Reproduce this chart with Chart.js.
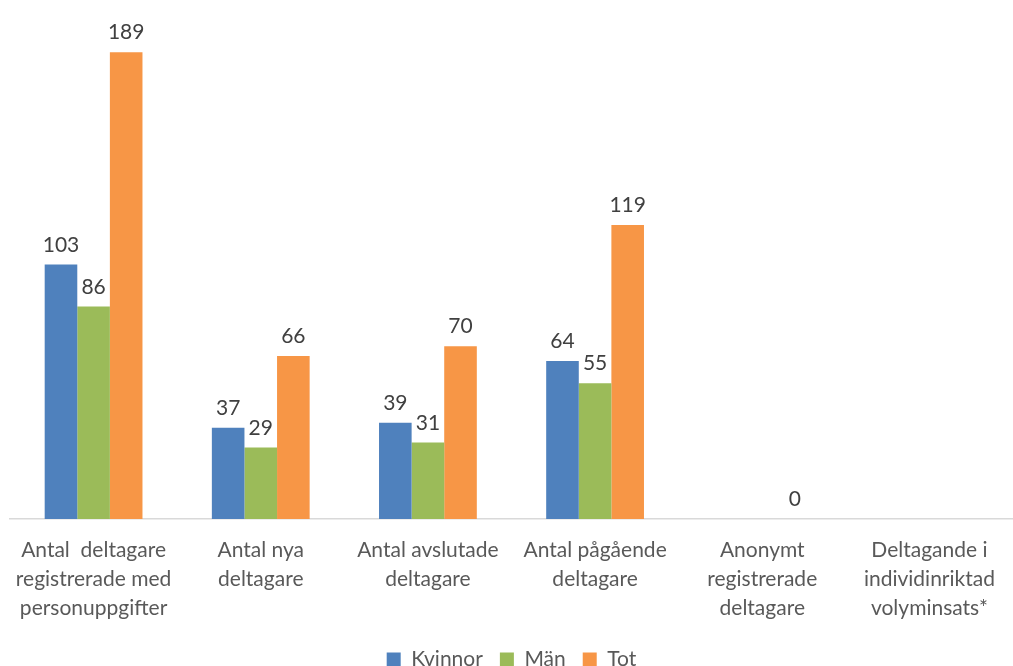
<!DOCTYPE html>
<html>
<head>
<meta charset="utf-8">
<script src="https://cdn.jsdelivr.net/npm/chart.js@4"></script>
<style>
  body { margin: 0; background: #fff; }
  #wrap { width: 1013px; height: 666px; }
</style>
</head>
<body>
<div id="wrap"><canvas id="myChart"></canvas></div>
<script>
var kategorier = [
  ["Antal  deltagare", "registrerade med", "personuppgifter"],
  ["Antal nya", "deltagare"],
  ["Antal avslutade", "deltagare"],
  ["Antal pågående", "deltagare"],
  ["Anonymt", "registrerade", "deltagare"],
  ["Deltagande i", "individinriktad", "volyminsats*"]
];
var kvinnor = [103, 37, 39, 64, null, null];
var man = [86, 29, 31, 55, null, null];
var tot = [189, 66, 70, 119, 0, null];

var typsnitt = 'Lato, "Open Sans", sans-serif';

// siffror ovanför staplarna
var etiketter = {
  id: 'etiketter',
  afterDatasetsDraw: function(chart) {
    var ctx = chart.ctx;
    ctx.save();
    ctx.font = '21px ' + typsnitt;
    ctx.fillStyle = '#404040';
    ctx.textAlign = 'center';
    ctx.textBaseline = 'bottom';
    chart.data.datasets.forEach(function(ds, i) {
      var meta = chart.getDatasetMeta(i);
      meta.data.forEach(function(bar, j) {
        var v = ds.data[j];
        if (v === null || v === undefined) return;
        ctx.fillText(String(v), bar.x, bar.y - 9);
      });
    });
    ctx.restore();
  }
};

var ctx = document.getElementById('myChart').getContext('2d');
var myChart = new Chart(ctx, {
  type: 'bar',
  data: {
    labels: kategorier,
    datasets: [
      { label: "Kvinnor", backgroundColor: "#4F81BD", data: kvinnor },
      { label: "Män", backgroundColor: "#9BBB59", data: man },
      { label: "Tot", backgroundColor: "#F79646", data: tot }
    ]
  },
  options: {
    responsive: true,
    maintainAspectRatio: false,
    animation: false,
    layout: { padding: { top: 25, left: 10, right: 0, bottom: -14 } },
    datasets: {
      bar: { categoryPercentage: 0.585, barPercentage: 1.0 }
    },
    scales: {
      x: {
        grid: { display: false },
        border: { display: true, color: '#D9D9D9', width: 1.5 },
        ticks: {
          color: '#595959',
          padding: 9,
          maxRotation: 0,
          autoSkip: false,
          font: { family: typsnitt, size: 21, lineHeight: 1.38 }
        }
      },
      y: {
        display: false,
        min: 0,
        max: 200
      }
    },
    plugins: {
      legend: {
        position: 'bottom',
        labels: {
          color: '#595959',
          boxWidth: 14,
          boxHeight: 14,
          padding: 17,
          font: { family: typsnitt, size: 21 }
        }
      },
      tooltip: { enabled: false }
    }
  },
  plugins: [etiketter]
});
</script>
</body>
</html>
